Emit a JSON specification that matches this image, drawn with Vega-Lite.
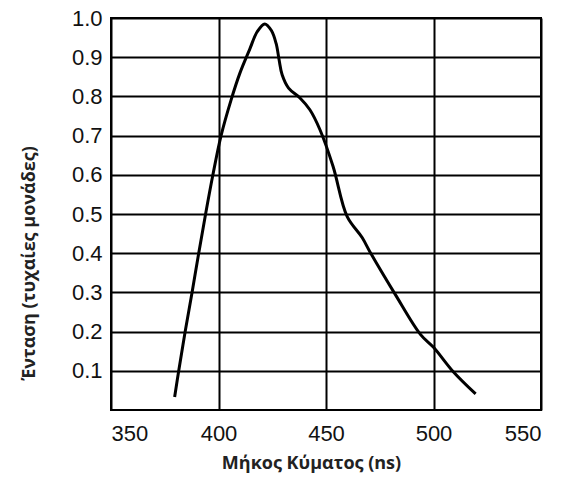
{
  "$schema": "https://vega.github.io/schema/vega-lite/v6.json",
  "autosize": {"type": "none"},
  "padding": {"left": 111, "top": 18, "right": 20, "bottom": 68},
  "width": 430,
  "height": 392,
  "background": "white",
  "config": {
    "view": {"stroke": "black", "strokeWidth": 2},
    "axis": {
      "gridColor": "black",
      "gridWidth": 2,
      "gridOpacity": 1,
      "domain": false,
      "ticks": false,
      "labelFont": "Liberation Sans",
      "labelFontSize": 22,
      "labelColor": "#111",
      "titleFont": "Open Sans",
      "titleFontWeight": "bold",
      "titleFontSize": 18,
      "titleColor": "#222"
    }
  },
  "data": {
    "values": [
      {"wavelength": 379.6, "intensity": 0.033},
      {"wavelength": 381.5, "intensity": 0.1},
      {"wavelength": 384.5, "intensity": 0.2},
      {"wavelength": 387.7, "intensity": 0.3},
      {"wavelength": 390.8, "intensity": 0.4},
      {"wavelength": 394.0, "intensity": 0.5},
      {"wavelength": 397.4, "intensity": 0.6},
      {"wavelength": 401.2, "intensity": 0.7},
      {"wavelength": 405.8, "intensity": 0.79},
      {"wavelength": 410.0, "intensity": 0.86},
      {"wavelength": 414.5, "intensity": 0.92},
      {"wavelength": 418.0, "intensity": 0.965},
      {"wavelength": 421.5, "intensity": 0.985},
      {"wavelength": 424.6, "intensity": 0.968},
      {"wavelength": 426.8, "intensity": 0.935},
      {"wavelength": 428.2, "intensity": 0.893},
      {"wavelength": 429.6, "intensity": 0.855},
      {"wavelength": 432.6, "intensity": 0.821},
      {"wavelength": 437.9, "intensity": 0.796},
      {"wavelength": 442.5, "intensity": 0.766},
      {"wavelength": 447.2, "intensity": 0.715},
      {"wavelength": 453.3, "intensity": 0.621},
      {"wavelength": 459.8, "intensity": 0.494},
      {"wavelength": 466.8, "intensity": 0.44},
      {"wavelength": 470.6, "intensity": 0.402},
      {"wavelength": 482.2, "intensity": 0.295},
      {"wavelength": 493.9, "intensity": 0.193},
      {"wavelength": 500.0, "intensity": 0.16},
      {"wavelength": 509.3, "intensity": 0.097},
      {"wavelength": 519.6, "intensity": 0.041}
    ]
  },
  "mark": {"type": "line", "color": "black", "strokeWidth": 3, "interpolate": "catmull-rom"},
  "encoding": {
    "x": {
      "field": "wavelength",
      "type": "quantitative",
      "scale": {"domain": [350, 550], "nice": false, "zero": false},
      "axis": {
        "values": [350, 400, 450, 500, 550],
        "labelPadding": 13,
        "title": "Μήκος Κύματος (ns)",
        "titleX": 200,
        "titleY": 58,
        "titleBaseline": "alphabetic",
        "titleAlign": "center"
      }
    },
    "y": {
      "field": "intensity",
      "type": "quantitative",
      "scale": {"domain": [0, 1], "nice": false},
      "axis": {
        "values": [0.1, 0.2, 0.3, 0.4, 0.5, 0.6, 0.7, 0.8, 0.9, 1.0],
        "format": ".1f",
        "labelPadding": 9,
        "title": "Ένταση (τυχαίες μονάδες)",
        "titleX": -77,
        "titleY": 245,
        "titleAngle": -90,
        "titleBaseline": "alphabetic",
        "titleAlign": "center"
      }
    }
  }
}
